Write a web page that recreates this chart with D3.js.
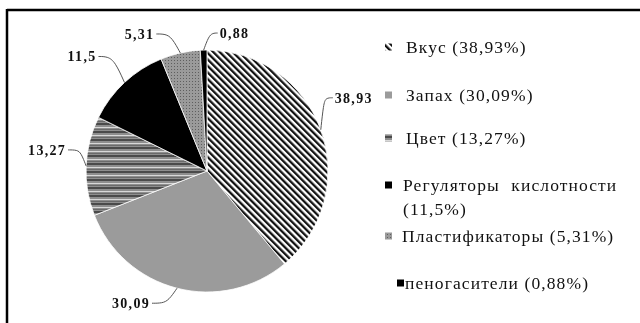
<!DOCTYPE html>
<html>
<head>
<meta charset="utf-8">
<script src="https://cdn.jsdelivr.net/npm/d3@7/dist/d3.min.js"></script>
<style>
  html, body { margin: 0; padding: 0; background: #fff; }
  svg { display: block; filter: blur(0.6px); }
</style>
</head>
<body>
<svg id="chart" width="640" height="323"></svg>
<script>
// Share of ingredient functions (percent)
const categories = ["Вкус", "Запах", "Цвет", "Регуляторы кислотности", "Пластификаторы", "пеногасители"];
const values = [38.93, 30.09, 13.27, 11.5, 5.31, 0.88];
const valueLabels = ["38,93", "30,09", "13,27", "11,5", "5,31", "0,88"];
const legendLabels = [
  ["Вкус (38,93%)"],
  ["Запах (30,09%)"],
  ["Цвет (13,27%)"],
  ["Регуляторы кислотности", "(11,5%)"],
  ["Пластификаторы (5,31%)"],
  ["пеногасители (0,88%)"]
];

// Leader-line geometry per slice: elbow offset from the rim, then horizontal tail
const leaderLayout = [
  { elbow: [5, -32], tail: 7 },
  { elbow: [-15, 15], tail: -10 },
  { elbow: [-9, -16], tail: -9 },
  { elbow: [-17, -26], tail: -9 },
  { elbow: [-15, -19], tail: -9 },
  { elbow: [9, -17], tail: 5 }
];
const legendRows = [47, 95, 138, 185, 236, 283];
const legendSymbolX = [385, 385, 385, 385, 385, 397];
const legendTextX = [406, 406, 406, 403, 402, 405];

const svg = d3.select("#chart");
const defs = svg.append("defs");

// Fills
const diag = defs.append("pattern").attr("id", "diag")
  .attr("patternUnits", "userSpaceOnUse").attr("width", 4.6).attr("height", 4.6)
  .attr("patternTransform", "rotate(-45)");
diag.append("rect").attr("width", 4.6).attr("height", 4.6).attr("fill", "#fff");
diag.append("rect").attr("width", 2.3).attr("height", 4.6).attr("fill", "#111");

const hstripe = defs.append("pattern").attr("id", "hstripe")
  .attr("patternUnits", "userSpaceOnUse").attr("width", 8).attr("height", 8);
hstripe.append("rect").attr("width", 8).attr("height", 8).attr("fill", "#8e8e8e");
hstripe.append("rect").attr("y", 0).attr("width", 8).attr("height", 2).attr("fill", "#4a4a4a");
hstripe.append("rect").attr("y", 4).attr("width", 8).attr("height", 1).attr("fill", "#d8d8d8");
hstripe.append("rect").attr("y", 6).attr("width", 8).attr("height", 1).attr("fill", "#6a6a6a");

const dots = defs.append("pattern").attr("id", "dots")
  .attr("patternUnits", "userSpaceOnUse").attr("width", 3).attr("height", 3);
dots.append("rect").attr("width", 3).attr("height", 3).attr("fill", "#9a9a9a");
dots.append("rect").attr("width", 1).attr("height", 1).attr("fill", "#5e5e5e");

const fills = ["url(#diag)", "#9b9b9b", "url(#hstripe)", "#000", "url(#dots)", "#000"];

// Frame (top and left edges)
svg.append("line").attr("x1", 7).attr("x2", 640).attr("y1", 10).attr("y2", 10)
  .attr("stroke", "#000").attr("stroke-width", 2.5);
svg.append("line").attr("x1", 7).attr("x2", 7).attr("y1", 9).attr("y2", 323)
  .attr("stroke", "#000").attr("stroke-width", 2.5);

// Pie
const cx = 207, cy = 171, R = 121;
const pie = d3.pie().sort(null).value(d => d)(values);
const arc = d3.arc().innerRadius(0).outerRadius(R);
const rim = d3.arc().innerRadius(R).outerRadius(R);

const g = svg.append("g").attr("transform", `translate(${cx},${cy})`);
g.selectAll("path.slice").data(pie).join("path")
  .attr("class", "slice")
  .attr("d", arc)
  .attr("fill", (d, i) => fills[i])
  .attr("stroke", "#fff").attr("stroke-width", 0.8);

// Leader lines and value labels
pie.forEach((d, i) => {
  const [sx, sy] = rim.centroid(d);
  const L = leaderLayout[i];
  const ex = sx + L.elbow[0], ey = sy + L.elbow[1];
  const tx = ex + L.tail;
  g.append("path")
    .attr("d", d3.line().curve(d3.curveBasis)([[sx, sy], [sx + L.elbow[0] * 0.55, sy + L.elbow[1] * 0.8], [ex, ey], [tx, ey]]))
    .attr("fill", "none").attr("stroke", "#555").attr("stroke-width", 1);
  g.append("text")
    .attr("x", tx + (L.tail > 0 ? 2 : -2))
    .attr("y", ey)
    .attr("dy", "0.35em")
    .attr("text-anchor", L.tail > 0 ? "start" : "end")
    .attr("font-family", "Liberation Serif, Times New Roman, serif")
    .attr("font-weight", "bold")
    .attr("font-size", 14)
    .attr("letter-spacing", 1.3)
    .attr("fill", "#111")
    .text(valueLabels[i]);
});

// Legend
const legend = svg.append("g");
categories.forEach((c, i) => {
  const y = legendRows[i];
  legend.append("rect")
    .attr("x", legendSymbolX[i]).attr("y", y - 3.5)
    .attr("width", 7).attr("height", 7)
    .attr("fill", fills[i]);
  legendLabels[i].forEach((line, j) => {
    legend.append("text")
      .attr("x", legendTextX[i])
      .attr("y", y + j * 24)
      .attr("dy", "0.35em")
      .attr("font-family", "Liberation Serif, Times New Roman, serif")
      .attr("font-size", 17.5)
      .attr("letter-spacing", 1.1)
      .attr("word-spacing", j === 0 && legendLabels[i].length > 1 ? 6 : 0)
      .attr("fill", "#111")
      .text(line);
  });
});
</script>
</body>
</html>
